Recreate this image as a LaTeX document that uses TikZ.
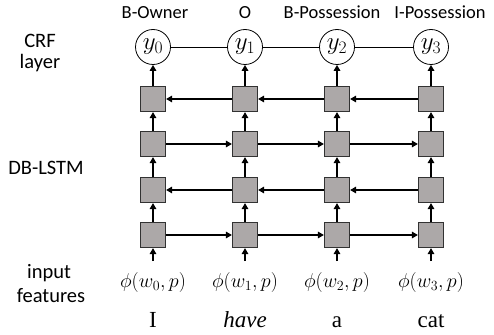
\RequirePackage{fix-cm}
\documentclass[tikz,border=0pt]{standalone}
\usepackage[no-math]{fontspec}
\setmainfont{Liberation Serif}
\newfontfamily\labelfont{Carlito}
\usetikzlibrary{arrows.meta}
\definecolor{cellgray}{RGB}{172,168,168}
\definecolor{celledge}{RGB}{50,50,50}
\tikzset{
  cell/.style={draw=celledge, fill=cellgray, line width=1.2pt, minimum size=25pt, inner sep=0pt},
  crf/.style={circle, draw, line width=0.8pt, minimum size=35pt, inner sep=0pt, font=\fontsize{25}{27}\selectfont},
  arr/.style={-{Triangle[length=6pt,width=6.5pt]}, line width=1.5pt},
  tag/.style={font=\labelfont\fontsize{18.5}{20}\selectfont, inner sep=0pt, anchor=base},
  side/.style={font=\labelfont\fontsize{20.5}{22}\selectfont, inner sep=0pt},
  feat/.style={font=\fontsize{20}{22}\selectfont, inner sep=0pt, anchor=base},
  word/.style={font=\fontsize{23}{25}\selectfont, inner sep=0pt, anchor=base}
}
\begin{document}
\begin{tikzpicture}[x=1pt,y=-1pt]
\useasboundingbox (0,0) rectangle (494,334);
% column positions
\def\xa{153}\def\xb{245}\def\xc{337}\def\xd{431}
% top tags
\node[tag] (t0) at (155,18.5) {B-Owner};
\node[tag] (t1) at (245,18.5) {O};
\node[tag] (t2) at (332,18.5) {B-Possession};
\node[tag] (t3) at (440,18.5) {I-Possession};
% side labels
\node[side] (s1) at (40,41) {CRF};
\node[side] (s2) at (40,63) {layer};
\node[side] (s3) at (46,168) {DB-LSTM};
\node[side] (s4) at (49,273) {input};
\node[side] (s5) at (51,296) {features};
% columns
\foreach \i/\x in {0/\xa,1/\xb,2/\xc,3/\xd}{
  \node[crf] (y\i) at (\x,47) {$y_{\i}$};
  \node[cell] (c\i-1) at (\x,99) {};
  \node[cell] (c\i-2) at (\x,144) {};
  \node[cell] (c\i-3) at (\x,190) {};
  \node[cell] (c\i-4) at (\x,235) {};
  \node[feat] (f\i) at (\x,287) {$\phi(w_{\i},p)$};
  \coordinate (a\i) at (\x,261);
  \draw[arr] (a\i) -- (c\i-4.south);
  \draw[arr] (c\i-4) -- (c\i-3);
  \draw[arr] (c\i-3) -- (c\i-2);
  \draw[arr] (c\i-2) -- (c\i-1);
  \draw[arr] (c\i-1) -- (y\i);
}
\node[word] (w0) at (\xa,327) {I};
\node[word] (w1) at (\xb,327) {\itshape have};
\node[word] (w2) at (\xc,327) {a};
\node[word] (w3) at (\xd,327) {cat};
% CRF chain
\draw[line width=0.8pt] (y0) -- (y1) (y1) -- (y2) (y2) -- (y3);
% horizontal recurrences
\foreach \i/\j in {0/1,1/2,2/3}{
  \draw[arr] (c\j-1) -- (c\i-1);
  \draw[arr] (c\i-2) -- (c\j-2);
  \draw[arr] (c\j-3) -- (c\i-3);
  \draw[arr] (c\i-4) -- (c\j-4);
}
\end{tikzpicture}
\end{document}
